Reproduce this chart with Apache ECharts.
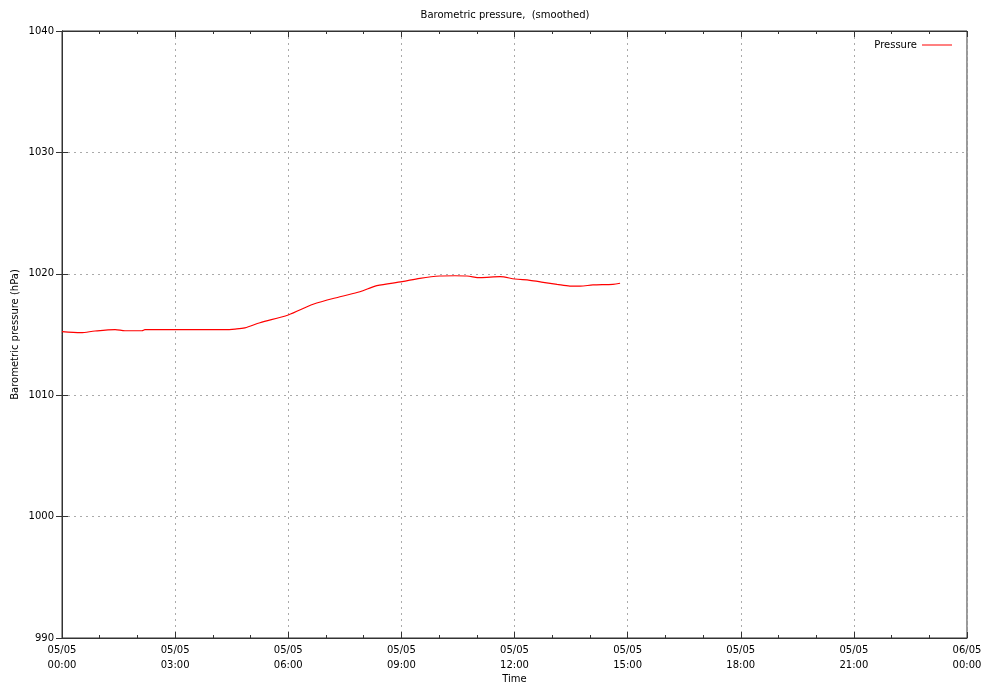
<!DOCTYPE html>
<html>
<head>
<meta charset="utf-8">
<script src="https://cdn.jsdelivr.net/npm/echarts@6/dist/echarts.min.js"></script>
<style>html,body{margin:0;padding:0;background:#fff}#c{width:983px;height:684px}</style>
</head>
<body>
<div id="c"></div>
<script>
// Hours since 05/05 00:00
const hours = [0, 0.5, 0.875, 1.41, 1.67, 2.12, 2.2, 4.32, 4.59, 4.85, 5.25, 6.0, 6.66, 7.37, 7.90, 8.35, 9.02, 9.49, 10.02, 10.42, 10.74, 11.09, 11.62, 12.01, 12.41, 12.76, 13.13, 13.47, 13.74, 14.08, 14.61, 14.80];
const pressure = [1015.23, 1015.15, 1015.29, 1015.40, 1015.31, 1015.31, 1015.40, 1015.40, 1015.45, 1015.55, 1015.97, 1016.61, 1017.49, 1018.11, 1018.52, 1019.02, 1019.35, 1019.63, 1019.82, 1019.84, 1019.82, 1019.68, 1019.76, 1019.57, 1019.46, 1019.30, 1019.13, 1018.99, 1018.99, 1019.08, 1019.13, 1019.22];
const xTickLabels = ['05/05\n00:00','05/05\n03:00','05/05\n06:00','05/05\n09:00','05/05\n12:00','05/05\n15:00','05/05\n18:00','05/05\n21:00','06/05\n00:00'];
const yTicks = [990, 1000, 1010, 1020, 1030, 1040];

const font = 'DejaVu Sans';
const chart = echarts.init(document.getElementById('c'));
const data = hours.map((h, i) => [h, pressure[i]]);
const axisLineStyle = {color: '#333', width: 1};
chart.setOption({
  animation: false,
  backgroundColor: '#fff',
  textStyle: {fontFamily: font},
  title: {
    text: 'Barometric pressure,  (smoothed)',
    left: 500, top: 5, textAlign: 'center',
    textStyle: {fontFamily: font, fontSize: 10, fontWeight: 'normal', color: '#000'}
  },
  legend: {
    right: 26, top: 35, align: 'right', orient: 'horizontal',
    itemWidth: 30, itemHeight: 1, itemGap: 6,
    icon: 'rect',
    textStyle: {fontFamily: font, fontSize: 10, color: '#000'},
    data: [{name: 'Pressure', itemStyle: {color: '#ff0000'}}]
  },
  grid: {left: 62, right: 16, top: 31, bottom: 46, show: true, borderColor: '#333', borderWidth: 1,
    containLabel: false, outerBoundsMode: 'none'},
  xAxis: [{
    type: 'value', min: 0, max: 24, interval: 3,
    name: 'Time', nameLocation: 'middle', nameGap: 36, nameMoveOverlap: false,
    nameTextStyle: {fontFamily: font, fontSize: 10, color: '#000'},
    axisLine: {show: true, lineStyle: axisLineStyle},
    axisTick: {show: true, inside: true, length: 6, lineStyle: axisLineStyle},
    minorTick: {show: true, splitNumber: 3, length: 3, lineStyle: axisLineStyle},
    axisLabel: {
      margin: 5, fontFamily: font, fontSize: 10, color: '#000', lineHeight: 15,
      formatter: v => xTickLabels[Math.round(v / 3)]
    },
    splitLine: {show: true, lineStyle: {color: '#aaa', type: [2, 4], width: 1}}
  }, {
    type: 'value', min: 0, max: 24, interval: 3, position: 'top',
    axisLine: {show: true, lineStyle: axisLineStyle},
    axisTick: {show: true, inside: true, length: 6, lineStyle: axisLineStyle},
    minorTick: {show: true, splitNumber: 3, length: 3, lineStyle: axisLineStyle},
    axisLabel: {show: false}, splitLine: {show: false}
  }],
  yAxis: [{
    type: 'value', min: 990, max: 1040, interval: 10,
    name: 'Barometric pressure (hPa)', nameLocation: 'middle', nameGap: 42, nameRotate: 90,
    nameMoveOverlap: false,
    nameTextStyle: {fontFamily: font, fontSize: 10, color: '#000'},
    axisLine: {show: true, lineStyle: axisLineStyle},
    axisTick: {show: true, inside: true, length: 6, lineStyle: axisLineStyle},
    axisLabel: {margin: 8, fontFamily: font, fontSize: 10, color: '#000',
      formatter: v => yTicks.includes(v) ? String(v) : ''},
    splitLine: {show: true, lineStyle: {color: '#aaa', type: [2, 4], width: 1}}
  }, {
    type: 'value', min: 990, max: 1040, interval: 10, position: 'right',
    axisLine: {show: true, lineStyle: axisLineStyle},
    axisTick: {show: true, inside: true, length: 6, lineStyle: axisLineStyle},
    axisLabel: {show: false}, splitLine: {show: false}
  }],
  series: [{
    name: 'Pressure', type: 'line', data: data,
    showSymbol: false, smooth: 0.3,
    lineStyle: {color: '#ff0000', width: 1.2},
    itemStyle: {color: '#ff0000'}
  }]
});
</script>
</body>
</html>
